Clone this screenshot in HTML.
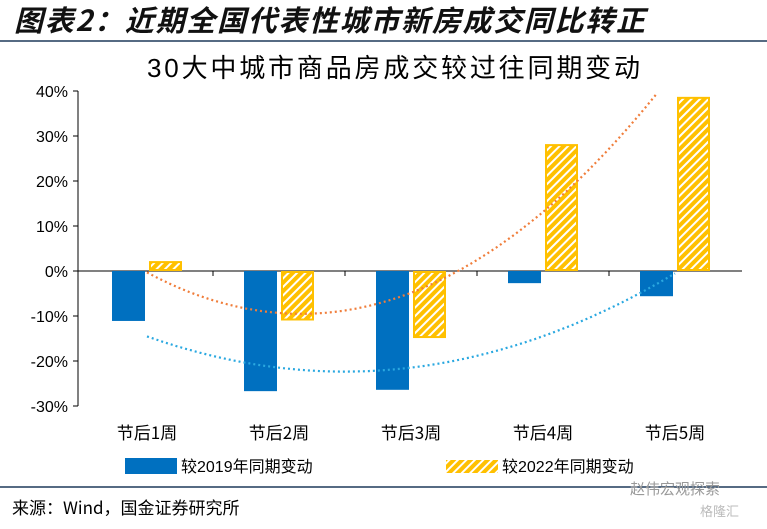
<!DOCTYPE html>
<html><head><meta charset="utf-8"><style>
body{margin:0;width:767px;height:524px;background:#fff;overflow:hidden;font-family:"Liberation Sans","Noto Sans CJK SC",sans-serif}
</style></head><body>
<svg width="767" height="524" xmlns="http://www.w3.org/2000/svg">
<defs><pattern id="hatch" width="6" height="6" patternUnits="userSpaceOnUse" patternTransform="rotate(45)">
<rect width="6" height="6" fill="#ffc000"/><rect width="2" height="6" fill="#fff"/></pattern></defs>
<text x="14" y="31" font-size="29" font-weight="bold" font-style="italic" font-family="'Noto Sans CJK SC',sans-serif" fill="#111" textLength="631">图表2：近期全国代表性城市新房成交同比转正</text>
<line x1="0" y1="41" x2="767" y2="41" stroke="#1f3a5a" stroke-width="1.5"/>
<text x="147" y="77" font-size="26" fill="#000" textLength="493">30大中城市商品房成交较过往同期变动</text>
<g id="plot"></g>
<rect x="125" y="458" width="52" height="16" fill="#0070c0"/>
<text x="181" y="472" font-size="16" fill="#000">较2019年同期变动</text>
<rect x="446" y="460" width="52" height="13" fill="url(#hatch)"/>
<text x="502" y="472" font-size="16" fill="#000">较2022年同期变动</text>
<line x1="0" y1="487" x2="767" y2="487" stroke="#1f3a5a" stroke-width="1.5"/>
<text x="12" y="514" font-size="17" fill="#000" font-family="'Noto Sans CJK SC',sans-serif">来源：Wind，国金证券研究所</text>
<text x="630" y="494" font-size="15" fill="#999" font-family="'Noto Sans CJK SC',sans-serif">赵伟宏观探索</text>
<text x="700" y="516" font-size="13" fill="#bbb" font-family="'Noto Sans CJK SC',sans-serif">格隆汇</text>
</svg>
<script>
const categories=["节后1周","节后2周","节后3周","节后4周","节后5周"];
const vs2019=[-11.1,-26.7,-26.4,-2.7,-5.6];
const vs2022=[2.2,-11.0,-14.9,28.2,38.7];
const yTicks=[40,30,20,10,0,-10,-20,-30];
const NS="http://www.w3.org/2000/svg";
const g=document.getElementById('plot');
const y0=271,pxPer=4.5,left=78,catW=132,firstC=147;
const Y=v=>y0-v*pxPer;
const X=i=>firstC+i*catW;
function mk(t,a){const e=document.createElementNS(NS,t);for(const k in a)e.setAttribute(k,a[k]);g.appendChild(e);return e;}
let ax=mk('line',{x1:left,y1:Y(40),x2:left,y2:Y(-30),stroke:'#000'});


yTicks.forEach(t=>{
 let l=mk('line',{x1:left-5,y1:Y(t),x2:left,y2:Y(t),stroke:'#000'});
 
 
 let tx=mk('text',{x:left-10,y:Y(t)+6,'font-size':16,'text-anchor':'end'});tx.textContent=t+'%';
 
 
});
let zl=mk('line',{x1:left,y1:y0,x2:742,y2:y0,stroke:'#000'});


categories.forEach((c,i)=>{
 let tx=mk('text',{x:X(i),y:439,'font-size':17,'text-anchor':'middle','font-family':"'Noto Sans CJK SC',sans-serif"});tx.textContent=c;
 
 
 if(i>0){let tk=mk('line',{x1:X(i)-66,y1:y0,x2:X(i)-66,y2:y0+5,stroke:'#000'});
 
 }
 const v1=vs2019[i],v2=vs2022[i];
 let b=mk('rect',{x:X(i)-35,y:Math.min(Y(v1),y0),width:33,height:Math.abs(Y(v1)-y0),fill:'#0070c0'});
 
 
 let b2=mk('rect',{x:X(i)+3,y:Math.min(Y(v2),y0)+1,width:31,height:Math.abs(Y(v2)-y0)-2,fill:'url(#hatch)',stroke:'#ffc000','stroke-width':2});
 
 
});
function fit(vals){
 let n=vals.length,S=[0,0,0,0,0],T=[0,0,0];
 vals.forEach((v,i)=>{const x=i+1;for(let k=0;k<5;k++)S[k]+=Math.pow(x,k);for(let k=0;k<3;k++)T[k]+=v*Math.pow(x,k);});
 const A=[[S[0],S[1],S[2],T[0]],[S[1],S[2],S[3],T[1]],[S[2],S[3],S[4],T[2]]];
 for(let i=0;i<3;i++){for(let j=i+1;j<3;j++){const f=A[j][i]/A[i][i];for(let k=i;k<4;k++)A[j][k]-=f*A[i][k];}}
 const c=[0,0,0];for(let i=2;i>=0;i--){let s=A[i][3];for(let k=i+1;k<3;k++)s-=A[i][k]*c[k];c[i]=s/A[i][i];}
 return x=>c[0]+c[1]*x+c[2]*x*x;
}
function trend(vals,color,name){
 const f=fit(vals);let pts=[];
 for(let t=1;t<=5.001;t+=0.02){const v=f(t);if(v>40||v<-30)continue;pts.push((X(t-1)).toFixed(1)+','+Y(v).toFixed(1));}
 let p=mk('polyline',{points:pts.join(' '),fill:'none',stroke:color,'stroke-width':2.2,'stroke-dasharray':'2 3'});
 
 
}
trend(vs2022,'#f07d3a','trend-2022');
trend(vs2019,'#2aa8e0','trend-2019');
</script>
</body></html>
